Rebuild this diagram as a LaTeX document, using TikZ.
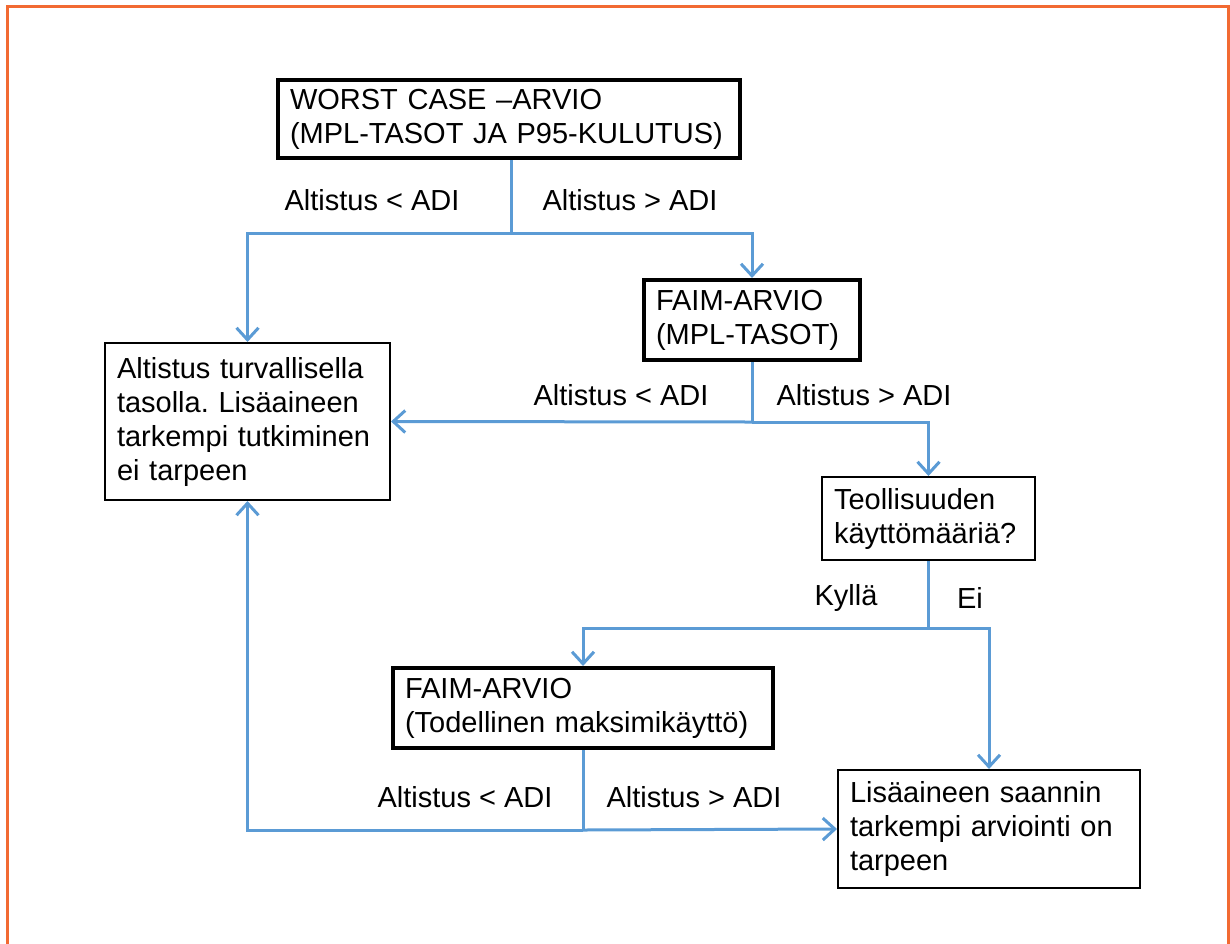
\documentclass[tikz,border=0pt]{standalone}
\usepackage{fontspec}
\setmainfont{Liberation Sans}
\usetikzlibrary{arrows.meta}
\definecolor{flowblue}{RGB}{91,155,213}
\definecolor{frameorange}{RGB}{242,106,50}
\frenchspacing
\tikzstyle{b} = [draw, line width=2pt, align=left, inner xsep=12pt, font=\fontsize{29}{34}\selectfont]

\begin{document}
\begin{tikzpicture}[x=1pt,y=-1pt,
		bold/.style={b, line width=4pt},
		link/.style={flowblue, line width=3pt},
		arr/.style={link, -{Straight Barb[length=12pt,width=22pt,line width=3pt]}},
		lbl/.style={font=\fontsize{29}{34}\selectfont}]
		\useasboundingbox (0,0) rectangle (1230,943);
		\draw[frameorange, line width=3pt] (7.5,6.5) rectangle (1228.5,970);
		\node (worst)[bold, minimum width=462, minimum height=78, text width=438] at (509,119)
		{WORST CASE –ARVIO\\(MPL-TASOT JA P95-KULUTUS)};
		\node (faim1)[bold, minimum width=216, minimum height=80, text width=192] at (752,320)
		{FAIM-ARVIO\\(MPL-TASOT)};
		\node (safe)[b, minimum width=285, minimum height=157, text width=261] at (247.5,421.5)
		{Altistus turvallisella\\tasolla. Lisäaineen\\tarkempi tutkiminen\\ei tarpeen};
		\node (teoll)[b, minimum width=213, minimum height=83, text width=189] at (928.5,518.5)
		{Teollisuuden\\käyttömääriä?};
		\node (faim2)[bold, minimum width=380, minimum height=80, text width=356] at (583,708)
		{FAIM-ARVIO\\(Todellinen maksimikäyttö)};
		\node (lisa)[b, minimum width=302, minimum height=118, text width=278] at (989,829)
		{Lisäaineen saannin\\tarkempi arviointi on\\tarpeen};
		\coordinate (j1) at (511,233);
		\coordinate (j2) at (faim1.south |- 0,422);
		\coordinate (j3) at (teoll.south |- 0,628);
		\coordinate (j4) at (faim2.south |- 0,830);
		\draw[link] (worst.south -| j1) -- (j1);
		\draw[arr] (j1) -| (safe.north);
		\draw[arr] (j1) -| (faim1.north);
		\draw[link] (faim1.south) -- (j2);
		\draw[arr] (j2) -- (safe.east);
		\draw[arr] (j2) -| (teoll.north);
		\draw[link] (teoll.south) -- (j3);
		\draw[arr] (j3) -| (faim2.north);
		\draw[arr] (j3) -| (lisa.north);
		\draw[link] (faim2.south) -- (j4);
		\draw[arr] (j4) -- (lisa.west);
		\draw[arr] (j4) -| (safe.south);
		\node (l1)[lbl] at (372,200) {Altistus < ADI};
		\node (g1)[lbl] at (630,200) {Altistus > ADI};
		\node (l2)[lbl] at (621,395) {Altistus < ADI};
		\node (g2)[lbl] at (864,395) {Altistus > ADI};
		\node (yes)[lbl] at (846,598) {Kyllä};
		\node (no)[lbl] at (970,598) {Ei};
		\node (l3)[lbl] at (465,797) {Altistus < ADI};
		\node (g3)[lbl] at (694,797) {Altistus > ADI};
	\end{tikzpicture}
\end{document}
